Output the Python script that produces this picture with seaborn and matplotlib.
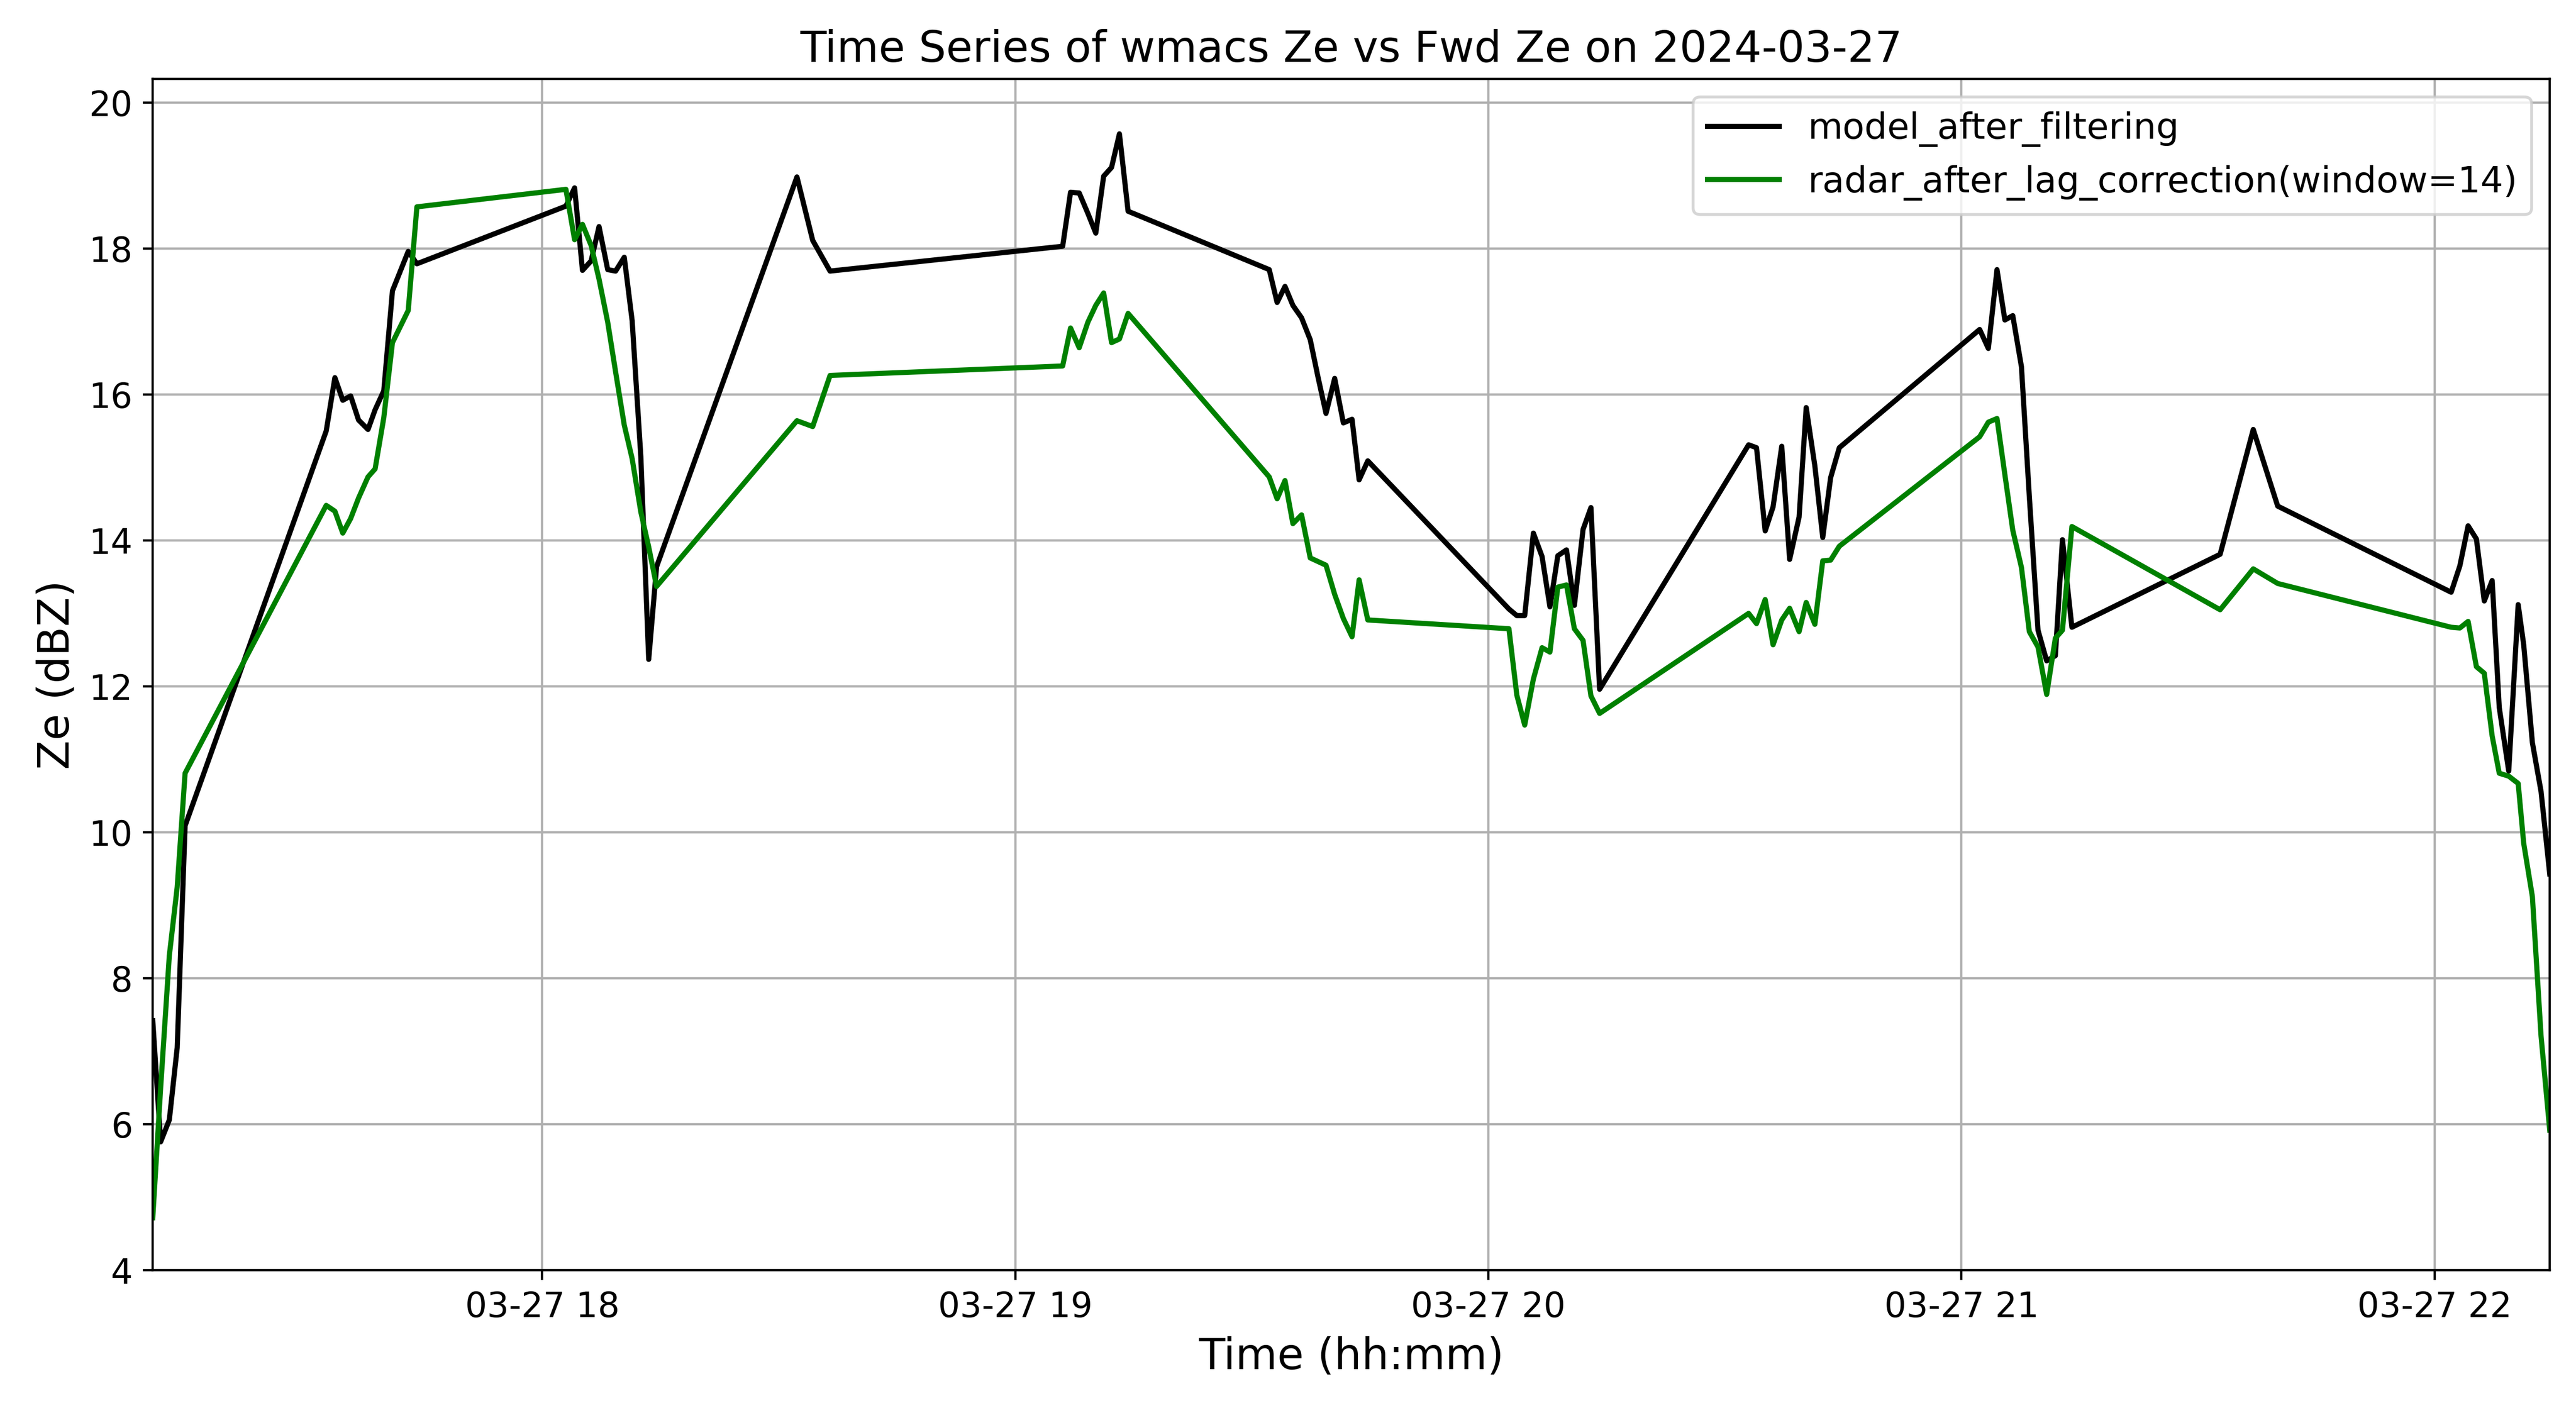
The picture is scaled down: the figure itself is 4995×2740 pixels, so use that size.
import matplotlib
matplotlib.use("Agg")
import matplotlib.pyplot as plt
import matplotlib.dates as mdates
import pandas as pd
import seaborn as sns

DATE = "2024-03-27"

# sample times (hh:mm:ss), shared by both series
times = [
    "17:10:36", "17:11:36", "17:12:42", "17:13:42", "17:14:42",
    "17:32:36", "17:33:42", "17:34:42", "17:35:42", "17:36:42", "17:37:54",
    "17:38:48", "17:39:54", "17:41:00", "17:43:00", "17:44:06",
    "18:03:00", "18:04:06", "18:05:06", "18:06:12", "18:07:12", "18:08:18",
    "18:09:18", "18:10:24", "18:11:24", "18:12:30", "18:13:30", "18:14:30",
    "18:32:18", "18:34:18", "18:36:30",
    "19:06:00", "19:07:00", "19:08:06", "19:09:12", "19:10:12", "19:11:12",
    "19:12:12", "19:13:12", "19:14:18",
    "19:32:12", "19:33:12", "19:34:12", "19:35:12", "19:36:18", "19:37:24",
    "19:38:24", "19:39:24", "19:40:30", "19:41:36", "19:42:42", "19:43:36", "19:44:42",
    "20:02:36", "20:03:36", "20:04:36", "20:05:42", "20:06:48", "20:07:48",
    "20:08:48", "20:09:54", "20:10:54", "20:12:00", "20:13:00", "20:14:06",
    "20:33:00", "20:34:00", "20:35:06", "20:36:06", "20:37:12", "20:38:12",
    "20:39:24", "20:40:18", "20:41:24", "20:42:24", "20:43:24", "20:44:30",
    "21:02:18", "21:03:24", "21:04:30", "21:05:30", "21:06:30", "21:07:36",
    "21:08:36", "21:09:42", "21:10:48", "21:11:54", "21:12:48", "21:14:00",
    "21:32:48", "21:37:00", "21:40:06",
    "22:02:06", "22:03:12", "22:04:15", "22:05:18", "22:06:18", "22:07:18",
    "22:08:12", "22:09:24", "22:10:36", "22:11:18", "22:12:24", "22:13:30", "22:14:36",
]

model_ze = [
    7.42, 5.76, 6.06, 7.05, 10.09,
    15.50, 16.23, 15.92, 15.98, 15.65, 15.52, 15.79, 16.05, 17.42, 17.96, 17.79,
    18.58, 18.83, 17.70, 17.83, 18.30, 17.71, 17.69, 17.88, 17.01, 15.15, 12.37, 13.64,
    18.98, 18.11, 17.69,
    18.03, 18.77, 18.76, 18.48, 18.21, 18.99, 19.11, 19.57, 18.51,
    17.71, 17.26, 17.48, 17.22, 17.05, 16.75, 16.23, 15.74, 16.22, 15.61, 15.66, 14.83, 15.09,
    13.06, 12.97, 12.97, 14.10, 13.78, 13.09, 13.79, 13.87, 13.11, 14.15, 14.45, 11.96,
    15.31, 15.27, 14.13, 14.46, 15.29, 13.74, 14.32, 15.82, 15.02, 14.04, 14.86, 15.27,
    16.89, 16.63, 17.71, 17.02, 17.08, 16.38, 14.60, 12.77, 12.35, 12.42, 14.01, 12.81,
    13.81, 15.52, 14.47,
    13.29, 13.65, 14.20, 14.02, 13.17, 13.45, 11.71, 10.84, 13.12, 12.57, 11.23, 10.56, 9.43,
]

radar_ze = [
    4.72, 6.50, 8.31, 9.25, 10.81,
    14.48, 14.40, 14.10, 14.30, 14.58, 14.87, 14.98, 15.68, 16.71, 17.15, 18.57,
    18.81, 18.12, 18.33, 18.04, 17.58, 16.99, 16.31, 15.58, 15.12, 14.39, 13.91, 13.37,
    15.64, 15.56, 16.26,
    16.39, 16.91, 16.64, 16.99, 17.22, 17.39, 16.71, 16.76, 17.11,
    14.87, 14.57, 14.82, 14.23, 14.35, 13.76, 13.71, 13.66, 13.26, 12.93, 12.68, 13.46, 12.91,
    12.79, 11.88, 11.47, 12.10, 12.53, 12.47, 13.36, 13.39, 12.79, 12.63, 11.87, 11.63,
    13.00, 12.86, 13.19, 12.57, 12.91, 13.07, 12.75, 13.15, 12.85, 13.72, 13.73, 13.92,
    15.42, 15.62, 15.67, 14.90, 14.14, 13.63, 12.75, 12.54, 11.89, 12.66, 12.77, 14.19,
    13.05, 13.61, 13.41,
    12.81, 12.80, 12.89, 12.27, 12.18, 11.32, 10.81, 10.77, 10.67, 9.85, 9.12, 7.21, 5.92,
]

df = pd.DataFrame({
    "time": pd.to_datetime([f"{DATE} {t}" for t in times]),
    "model": model_ze,
    "radar": radar_ze,
})

fig, ax = plt.subplots(figsize=(12.4875, 6.85), dpi=400)
fig.subplots_adjust(left=0.0593, right=0.9898, top=0.944, bottom=0.101)

sns.lineplot(data=df, x="time", y="model", color="black", linewidth=1.8,
             label="model_after_filtering", ax=ax)
sns.lineplot(data=df, x="time", y="radar", color="green", linewidth=1.8,
             label="radar_after_lag_correction(window=14)", ax=ax)

ax.set_xlim(df["time"].min(), df["time"].max())
ax.set_ylim(4, 20.32)
ax.set_yticks(range(4, 21, 2))
ax.xaxis.set_major_locator(mdates.HourLocator())
ax.xaxis.set_major_formatter(mdates.DateFormatter("%m-%d %H"))
ax.tick_params(labelsize=12)
ax.grid(True)

ax.set_title(f"Time Series of wmacs Ze vs Fwd Ze on {DATE}", fontsize=15)
ax.set_xlabel("Time (hh:mm)", fontsize=15)
ax.set_ylabel("Ze (dBZ)", fontsize=15)
ax.legend(loc="upper right", fontsize=12.5)

plt.savefig("out.png", dpi=400)
